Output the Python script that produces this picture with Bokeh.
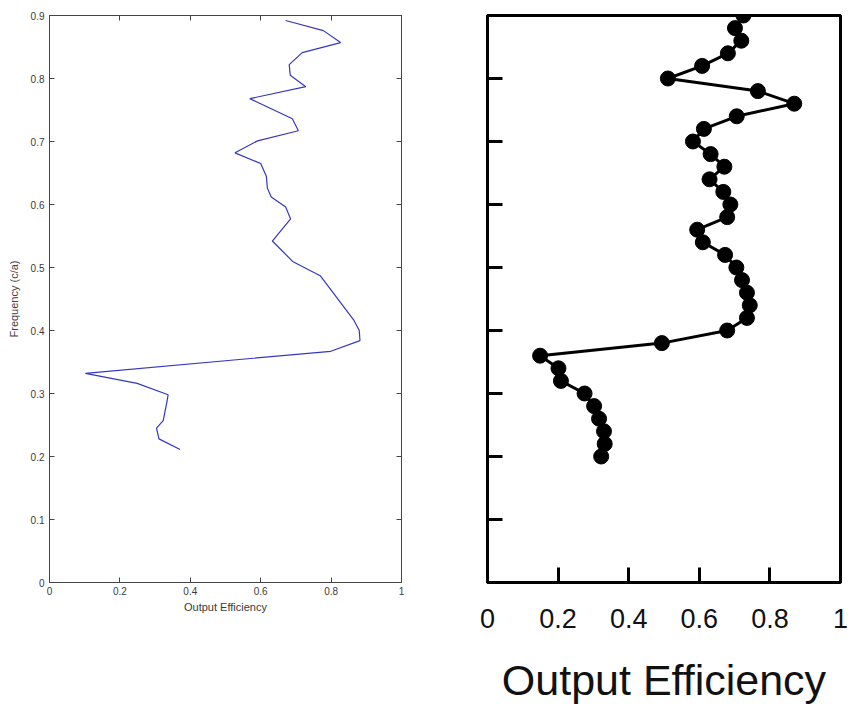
from bokeh.plotting import figure
from bokeh.layouts import row
from bokeh.models import Range1d, FixedTicker, LinearAxis, CustomJSTickFormatter
from bokeh.embed import file_html
from bokeh.resources import INLINE

# ---------------- data ----------------
# Left panel: simulated output efficiency vs frequency
sim_frequency = [0.211, 0.228, 0.245, 0.257, 0.288, 0.298, 0.316, 0.332, 0.367, 0.384,
                 0.400, 0.416, 0.487, 0.509, 0.542, 0.577, 0.596, 0.612, 0.626, 0.645,
                 0.665, 0.682, 0.701, 0.717, 0.736, 0.768, 0.787, 0.805, 0.822, 0.841,
                 0.857, 0.876, 0.892]
sim_efficiency = [0.371, 0.311, 0.304, 0.323, 0.334, 0.337, 0.249, 0.102, 0.799, 0.882,
                  0.880, 0.865, 0.769, 0.692, 0.633, 0.685, 0.671, 0.630, 0.619, 0.616,
                  0.600, 0.527, 0.591, 0.707, 0.690, 0.569, 0.728, 0.684, 0.681, 0.718,
                  0.827, 0.778, 0.671]

# Right panel: measured output efficiency vs frequency
exp_frequency = [0.20, 0.22, 0.24, 0.26, 0.28, 0.30, 0.32, 0.34, 0.36, 0.38,
                 0.40, 0.42, 0.44, 0.46, 0.48, 0.50, 0.52, 0.54, 0.56, 0.58,
                 0.60, 0.62, 0.64, 0.66, 0.68, 0.70, 0.72, 0.74, 0.76, 0.78,
                 0.80, 0.82, 0.84, 0.86, 0.88, 0.90]
exp_efficiency = [0.322, 0.332, 0.330, 0.316, 0.302, 0.275, 0.208, 0.201, 0.149, 0.494,
                  0.679, 0.735, 0.743, 0.735, 0.721, 0.705, 0.673, 0.610, 0.594, 0.679,
                  0.688, 0.668, 0.629, 0.671, 0.632, 0.582, 0.613, 0.706, 0.869, 0.766,
                  0.511, 0.608, 0.681, 0.719, 0.701, 0.725]

x_ticks = [0, 0.2, 0.4, 0.6, 0.8, 1]
x_tick_labels = ["0", "0.2", "0.4", "0.6", "0.8", "1"]
y_ticks = [0, 0.1, 0.2, 0.3, 0.4, 0.5, 0.6, 0.7, 0.8, 0.9]
y_tick_labels = ["0", "0.1", "0.2", "0.3", "0.4", "0.5", "0.6", "0.7", "0.8", "0.9"]

FONT = "Liberation Sans"
blank = CustomJSTickFormatter(code="return ''")

# ---------------- left panel ----------------
p1 = figure(width=440, height=712, output_backend="svg", toolbar_location=None,
            x_range=Range1d(0, 1), y_range=Range1d(0, 0.9),
            min_border_left=49, min_border_right=39, min_border_top=14, min_border_bottom=130,
            x_axis_label="Output Efficiency", y_axis_label="Frequency (c/a)")
p1.grid.visible = False
p1.outline_line_color = "#444444"
p1.outline_line_width = 1
p1.background_fill_color = "white"
p1.border_fill_color = "white"

p1.xaxis.ticker = FixedTicker(ticks=x_ticks)
p1.yaxis.ticker = FixedTicker(ticks=y_ticks)
p1.xaxis.major_label_overrides = dict(zip(x_ticks, x_tick_labels))
p1.yaxis.major_label_overrides = dict(zip(y_ticks, y_tick_labels))
for ax in (p1.xaxis[0], p1.yaxis[0]):
    ax.axis_line_color = "#444444"
    ax.major_tick_in = 5
    ax.major_tick_out = 0
    ax.major_tick_line_color = "#444444"
    ax.minor_tick_line_color = None
    ax.major_label_text_font = FONT
    ax.major_label_text_font_size = "10px"
    ax.major_label_text_color = "#3a3a3a"
    ax.axis_label_text_font = FONT
    ax.axis_label_text_font_size = "11px"
    ax.axis_label_text_font_style = "normal"
    ax.axis_label_text_color = "#3a3a3a"
p1.xaxis.major_label_standoff = 4
p1.xaxis.axis_label_standoff = 3
p1.yaxis.major_label_standoff = 5
p1.yaxis.axis_label_standoff = 8
p1.yaxis.axis_label_text_color = "#4a3c3c"

# mirrored ticks on top and right (MATLAB box style)
top_ax = LinearAxis(ticker=FixedTicker(ticks=x_ticks), formatter=blank)
right_ax = LinearAxis(ticker=FixedTicker(ticks=y_ticks), formatter=blank)
for ax in (top_ax, right_ax):
    ax.axis_line_color = "#444444"
    ax.major_tick_in = 5
    ax.major_tick_out = 0
    ax.major_tick_line_color = "#444444"
    ax.minor_tick_line_color = None
    ax.major_label_text_font_size = "0px"
    ax.major_label_standoff = 0
p1.add_layout(top_ax, "above")
p1.add_layout(right_ax, "right")

p1.line(sim_efficiency, sim_frequency, line_color="#3636c4", line_width=1.2)

# ---------------- right panel ----------------
p2 = figure(width=410, height=712, output_backend="svg", toolbar_location=None,
            x_range=Range1d(0, 1), y_range=Range1d(0, 0.9),
            min_border_left=47, min_border_right=10, min_border_top=15, min_border_bottom=129,
            x_axis_label="Output Efficiency")
p2.grid.visible = False
p2.outline_line_color = "black"
p2.outline_line_width = 3
p2.background_fill_color = "white"
p2.border_fill_color = "white"

p2.xaxis.ticker = FixedTicker(ticks=x_ticks)
p2.yaxis.ticker = FixedTicker(ticks=y_ticks)
p2.xaxis.major_label_overrides = dict(zip(x_ticks, x_tick_labels))
p2.yaxis.formatter = blank
p2.yaxis.major_label_text_font_size = "0px"
for ax in (p2.xaxis[0], p2.yaxis[0]):
    ax.axis_line_color = "black"
    ax.axis_line_width = 3
    ax.major_tick_in = 15
    ax.major_tick_out = 0
    ax.major_tick_line_color = "black"
    ax.major_tick_line_width = 3
    ax.minor_tick_line_color = None
p2.xaxis.major_label_text_font = FONT
p2.xaxis.major_label_text_font_size = "27px"
p2.xaxis.major_label_text_color = "#111111"
p2.xaxis.major_label_standoff = 26
p2.xaxis.axis_label_text_font = FONT
p2.xaxis.axis_label_text_font_size = "43px"
p2.xaxis.axis_label_text_font_style = "normal"
p2.xaxis.axis_label_text_color = "#111111"
p2.xaxis.axis_label_standoff = 25

p2.line(exp_efficiency, exp_frequency, line_color="black", line_width=3)
p2.scatter(exp_efficiency, exp_frequency, size=15, fill_color="black", line_color="black")

layout = row(p1, p2)
open("out.html", "w").write(file_html(layout, INLINE))
